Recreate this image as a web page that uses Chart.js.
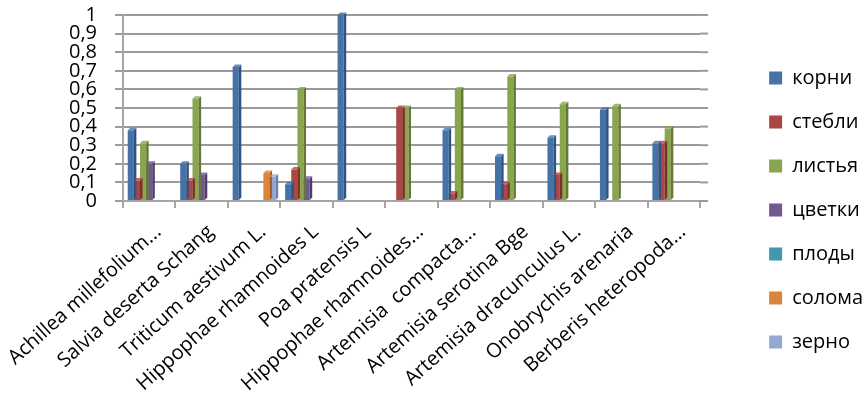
<!DOCTYPE html>
<html>
<head>
<meta charset="utf-8">
<script src="https://cdn.jsdelivr.net/npm/chart.js@4.4.0/dist/chart.umd.min.js"></script>
<style>
  html, body { margin: 0; padding: 0; background: #fff; }
  #wrap { width: 865px; height: 405px; position: relative; }
</style>
</head>
<body>
<div id="wrap"><canvas id="chart"></canvas></div>
<script>
// species on the x axis (long names are cut with "..." as in the workbook)
const species = [
  "Achillea millefolium...",
  "Salvia deserta Schang",
  "Triticum aestivum L.",
  "Hippophae rhamnoides L",
  "Poa pratensis L",
  "Hippophae rhamnoides...",
  "Artemisia  compacta...",
  "Artemisia serotina Bge",
  "Artemisia dracunculus L.",
  "Onobrychis arenaria",
  "Berberis heteropoda..."
];

// plant parts, one series each
const korni   = [0.38, 0.20, 0.72, 0.09, 1.00, null, 0.38, 0.24, 0.34, 0.49, 0.31];
const stebli  = [0.11, 0.11, null, 0.17, null, 0.50, 0.04, 0.09, 0.14, null, 0.31];
const listya  = [0.31, 0.55, null, 0.60, null, 0.50, 0.60, 0.67, 0.52, 0.51, 0.39];
const cvetki  = [0.20, 0.14, null, 0.12, null, null, null, null, null, null, null];
const plody   = [null, null, null, null, null, null, null, null, null, null, null];
const soloma  = [null, null, 0.15, null, null, null, null, null, null, null, null];
const zerno   = [null, null, 0.13, null, null, null, null, null, null, null, null];

const seriesNames = ["корни", "стебли", "листья", "цветки", "плоды", "солома", "зерно"];
const seriesColors = ["#4572A7", "#AA4643", "#89A54E", "#71588F", "#4198AF", "#DB843D", "#93A9CF"];
const sideColors   = ["#2f5283", "#7e2f2d", "#627a35", "#4f3d66", "#2c6f81", "#a55f25", "#6a81a8"];

const yTickLabels = ["0", "0,1", "0,2", "0,3", "0,4", "0,5", "0,6", "0,7", "0,8", "0,9", "1"];

const FONT = "'Open Sans', 'DejaVu Sans', sans-serif";

// back wall gridlines run a little past the last category
const wallDepth = {
  id: "wallDepth",
  beforeDatasetsDraw(chart) {
    const ctx = chart.ctx;
    const { right } = chart.chartArea;
    const y = chart.scales.y;
    ctx.save();
    ctx.strokeStyle = "#9a9a9a";
    ctx.lineWidth = 2;
    y.ticks.forEach(t => {
      const py = y.getPixelForValue(t.value);
      ctx.beginPath();
      ctx.moveTo(right, py);
      ctx.lineTo(right + 8, py);
      ctx.stroke();
    });
    ctx.restore();
  }
};

// darker right side and top of every column, gives the old 3-D look
const columnDepth = {
  id: "columnDepth",
  afterDatasetsDraw(chart) {
    const ctx = chart.ctx;
    const d = 2.5;
    chart.data.datasets.forEach((ds, i) => {
      const meta = chart.getDatasetMeta(i);
      meta.data.forEach((bar, j) => {
        if (ds.data[j] == null) return;
        const right = bar.x + bar.width / 2;
        const left = bar.x - bar.width / 2;
        ctx.save();
        ctx.fillStyle = sideColors[i];
        ctx.beginPath();
        ctx.moveTo(right, bar.y);
        ctx.lineTo(right + d, bar.y - d);
        ctx.lineTo(right + d, bar.base - d);
        ctx.lineTo(right, bar.base);
        ctx.closePath();
        ctx.fill();
        ctx.fillStyle = seriesColors[i];
        ctx.globalAlpha = 0.8;
        ctx.beginPath();
        ctx.moveTo(left, bar.y);
        ctx.lineTo(left + d, bar.y - d);
        ctx.lineTo(right + d, bar.y - d);
        ctx.lineTo(right, bar.y);
        ctx.closePath();
        ctx.fill();
        ctx.restore();
      });
    });
  }
};

const seriesData = [korni, stebli, listya, cvetki, plody, soloma, zerno];

new Chart(document.getElementById("chart"), {
  type: "bar",
  data: {
    labels: species,
    datasets: seriesData.map((vals, i) => ({
      label: seriesNames[i],
      data: vals,
      backgroundColor: seriesColors[i],
      borderWidth: 0,
      barPercentage: 1,
      categoryPercentage: 0.82
    }))
  },
  options: {
    responsive: true,
    maintainAspectRatio: false,
    animation: false,
    layout: { padding: { top: 15, right: -8, left: 0, bottom: 0 } },
    plugins: {
      tooltip: { enabled: false },
      legend: {
        position: "right",
        labels: {
          boxWidth: 13,
          boxHeight: 13,
          padding: 24,
          color: "#000",
          font: { family: FONT, size: 20 }
        }
      }
    },
    scales: {
      x: {
        grid: { display: true, drawOnChartArea: false, color: "#a6a6a6", lineWidth: 2, tickLength: 7, offset: true },
        border: { color: "#a6a6a6", width: 2 },
        ticks: {
          color: "#000",
          maxRotation: 42,
          minRotation: 42,
          autoSkip: false,
          padding: 12,
          labelOffset: 9,
          font: { family: FONT, size: 20 }
        },
        afterFit: s => { s.height = 204; s.paddingLeft = 0; s.paddingRight = 0; }
      },
      y: {
        min: 0,
        max: 1,
        ticks: {
          stepSize: 0.1,
          autoSkip: false,
          color: "#000",
          padding: 18,
          font: { family: FONT, size: 20 },
          callback: (v, idx) => yTickLabels[idx]
        },
        grid: { color: "#9a9a9a", lineWidth: 2, tickLength: 8 },
        border: { color: "#a6a6a6", width: 2 },
        afterFit: s => { s.width = 123; s.paddingTop = 0; s.paddingBottom = 0; }
      },
      // empty spacer between the plot and the legend
      gap: {
        type: "linear",
        position: "right",
        display: true,
        grid: { display: false },
        border: { display: false },
        ticks: { display: false },
        afterFit: s => { s.width = 45; }
      }
    }
  },
  plugins: [wallDepth, columnDepth]
});
</script>
</body>
</html>
